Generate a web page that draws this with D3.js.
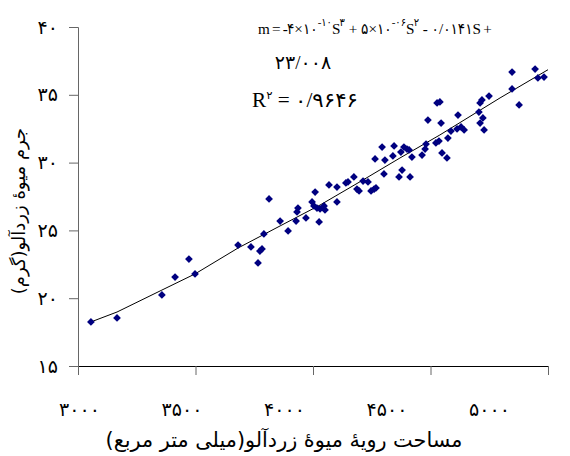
<!DOCTYPE html>
<html>
<head>
<meta charset="utf-8">
<script src="https://cdn.jsdelivr.net/npm/d3@7"></script>
<style>
  body { margin: 0; background: #fff; }
  svg { display: block; }
  text { font-family: "Liberation Serif", "DejaVu Sans", serif; }
  .eq1 { font-family: "Liberation Serif", "DejaVu Sans Condensed", "DejaVu Sans", serif; font-stretch: condensed; }
</style>
</head>
<body>
<div id="container"></div>
<script>
// fruit surface area (mm2) vs fruit mass (g)
const areaValues = [3055, 3166, 3357, 3413, 3472, 3498, 3681, 3736, 3766, 3774, 3783, 3791, 3813, 3860, 3894,
  3928, 3932, 3936, 3970, 3996, 4004, 4009, 4017, 4026, 4030, 4047, 4051, 4068, 4102, 4102, 4140, 4149, 4174,
  4187, 4196, 4213, 4234, 4247, 4260, 4268, 4302, 4264, 4294, 4306, 4345, 4340, 4366, 4379, 4413, 4374, 4387,
  4400, 4409, 4421, 4464, 4477, 4481, 4489, 4528, 4540, 4545, 4523, 4536, 4549, 4570, 4574, 4587, 4617, 4613,
  4630, 4643, 4706, 4711, 4719, 4749, 4711, 4723, 4728, 4847, 4847, 4877, 4945, 4957, 4983];
const massValues = [18.25, 18.54, 20.24, 21.56, 22.89, 21.79, 23.92, 23.78, 22.60, 23.48, 23.63, 24.74, 27.32,
  25.69, 24.96, 25.69, 26.36, 26.65, 25.92, 27.10, 26.80, 27.83, 26.65, 25.62, 26.58, 26.80, 26.51, 28.35,
  27.10, 28.20, 28.50, 28.57, 28.94, 28.05, 27.91, 28.64, 28.57, 27.91, 28.05, 28.13, 29.16, 30.27, 31.15,
  30.19, 31.23, 30.49, 28.94, 29.45, 28.94, 30.78, 31.15, 31.00, 30.93, 30.41, 30.56, 31.00, 31.37, 33.14,
  34.40, 34.47, 32.92, 31.45, 31.59, 30.71, 30.34, 31.81, 32.33, 33.51, 32.48, 32.63, 32.41, 33.73, 34.40,
  34.62, 34.91, 32.92, 33.29, 32.41, 36.68, 35.43, 34.25, 36.90, 36.24, 36.31];

// polynomial trend line
const trendArea = [3055, 3166, 3357, 3498, 3681, 3860, 4030, 4213, 4370, 4540, 4796, 5000];
const trendMass = [18.25, 18.98, 20.60, 21.79, 23.70, 25.33, 26.87, 28.72, 30.34, 32.04, 34.77, 36.85];

const xTicks = [3000, 3500, 4000, 4500, 5000];
const xTickLabels = ["۳۰۰۰", "۳۵۰۰", "۴۰۰۰", "۴۵۰۰", "۵۰۰۰"];
const yTicks = [15, 20, 25, 30, 35, 40];
const yTickLabels = ["۱۵", "۲۰", "۲۵", "۳۰", "۳۵", "۴۰"];

const xTitle = "مساحت رویهٔ میوهٔ زردآلو(میلی متر مربع)";
const yTitle = "جرم میوهٔ زردآلو(گرم)";

const width = 570, height = 456;
const margin = {top: 27, right: 22, bottom: 90, left: 78};
const persian = "'DejaVu Sans', sans-serif";

const svg = d3.select("#container")
  .append("svg")
    .attr("width", width)
    .attr("height", height);

// scales
const x = d3.scaleLinear()
  .domain([3000, 5000])
  .range([margin.left, width - margin.right]);
const y = d3.scaleLinear()
  .domain([15, 40])
  .range([height - margin.bottom, margin.top]);
// the tick labels sit a bit off the tick marks in the original
const xLab = d3.scalePoint()
  .domain(xTickLabels)
  .range([79, 489]);

// y axis
const gy = svg.append("g")
  .attr("transform", `translate(${margin.left},0)`)
  .call(d3.axisLeft(y)
    .tickValues(yTicks)
    .tickSize(9)
    .tickPadding(11)
    .tickFormat((d, i) => yTickLabels[i]));
gy.select(".domain").attr("stroke", "#666");
gy.selectAll(".tick line").attr("stroke", "#666");
gy.selectAll(".tick text")
  .attr("font-size", 19)
  .attr("letter-spacing", 1)
  .attr("fill", "#000")
  .style("font-family", persian);

// x axis (marks)
const gx = svg.append("g")
  .attr("transform", `translate(0,${y(15)})`)
  .call(d3.axisBottom(x)
    .tickValues(xTicks)
    .tickSize(9)
    .tickSizeOuter(0)
    .tickFormat(""));
gx.select(".domain").attr("stroke", "#000");
gx.selectAll(".tick line").attr("stroke", "#666");

// x axis (labels)
const gxl = svg.append("g")
  .attr("transform", `translate(0,${y(15) + 36})`)
  .call(d3.axisBottom(xLab).tickSize(0).tickPadding(0));
gxl.select(".domain").remove();
gxl.selectAll(".tick text")
  .attr("font-size", 19)
  .attr("letter-spacing", 2)
  .attr("fill", "#000")
  .style("font-family", persian);

// titles
svg.append("text")
  .attr("x", 284)
  .attr("y", 447)
  .attr("text-anchor", "middle")
  .attr("font-size", 20.8)
  .style("font-family", persian)
  .text(xTitle);

svg.append("text")
  .attr("transform", `translate(25,${211}) rotate(-90)`)
  .attr("text-anchor", "middle")
  .attr("font-size", 18)
  .style("font-family", persian)
  .text(yTitle);

// trend line
const trend = trendArea.map((a, i) => ({a: a, m: trendMass[i]}));
const line = d3.line()
  .x(d => x(d.a))
  .y(d => y(d.m));
svg.append("path")
  .datum(trend)
  .attr("fill", "none")
  .attr("stroke", "#000")
  .attr("stroke-width", 1)
  .attr("d", line);

// points (diamonds)
const pts = areaValues.map((a, i) => ({a: a, m: massValues[i]}));
svg.append("g")
  .selectAll("path")
  .data(pts)
  .join("path")
    .attr("d", d3.symbol().type(d3.symbolSquare).size(30))
    .attr("transform", d => `translate(${x(d.a)},${y(d.m)}) rotate(45)`)
    .attr("fill", "#000080");

// equation text
const eq = svg.append("g")
  .attr("font-size", 19)
  .attr("direction", "ltr");

function addRuns(t, runs) {
  runs.forEach(r => {
    const s = t.append("tspan").text(r.t);
    if (r.sup) s.attr("dy", -8).attr("font-size", 11);
    if (r.back) s.attr("dy", 8);
  });
}

const l1 = eq.append("text")
  .attr("class", "eq1")
  .attr("x", 258).attr("y", 34)
  .attr("font-size", 15.2)
  .attr("letter-spacing", -0.8);
addRuns(l1, [
  {t: "m = -۴×۱۰"}, {t: "-۱۰", sup: true}, {t: "S", back: true}, {t: "۳", sup: true},
  {t: " + ۵×۱۰", back: true}, {t: "-۰۶", sup: true}, {t: "S", back: true}, {t: "۲", sup: true},
  {t: " - ۰/۰۱۴۱S +", back: true}
]);

eq.append("text")
  .attr("x", 303).attr("y", 69)
  .attr("text-anchor", "middle")
  .attr("letter-spacing", 1)
  .text("۲۳/۰۰۸");

const l3 = eq.append("text")
  .attr("x", 252).attr("y", 107)
  .attr("font-size", 20)
  .attr("textLength", 106)
  .attr("lengthAdjust", "spacingAndGlyphs");
addRuns(l3, [{t: "R"}, {t: "۲", sup: true}, {t: " = ۰/۹۶۴۶", back: true}]);
</script>
</body>
</html>
